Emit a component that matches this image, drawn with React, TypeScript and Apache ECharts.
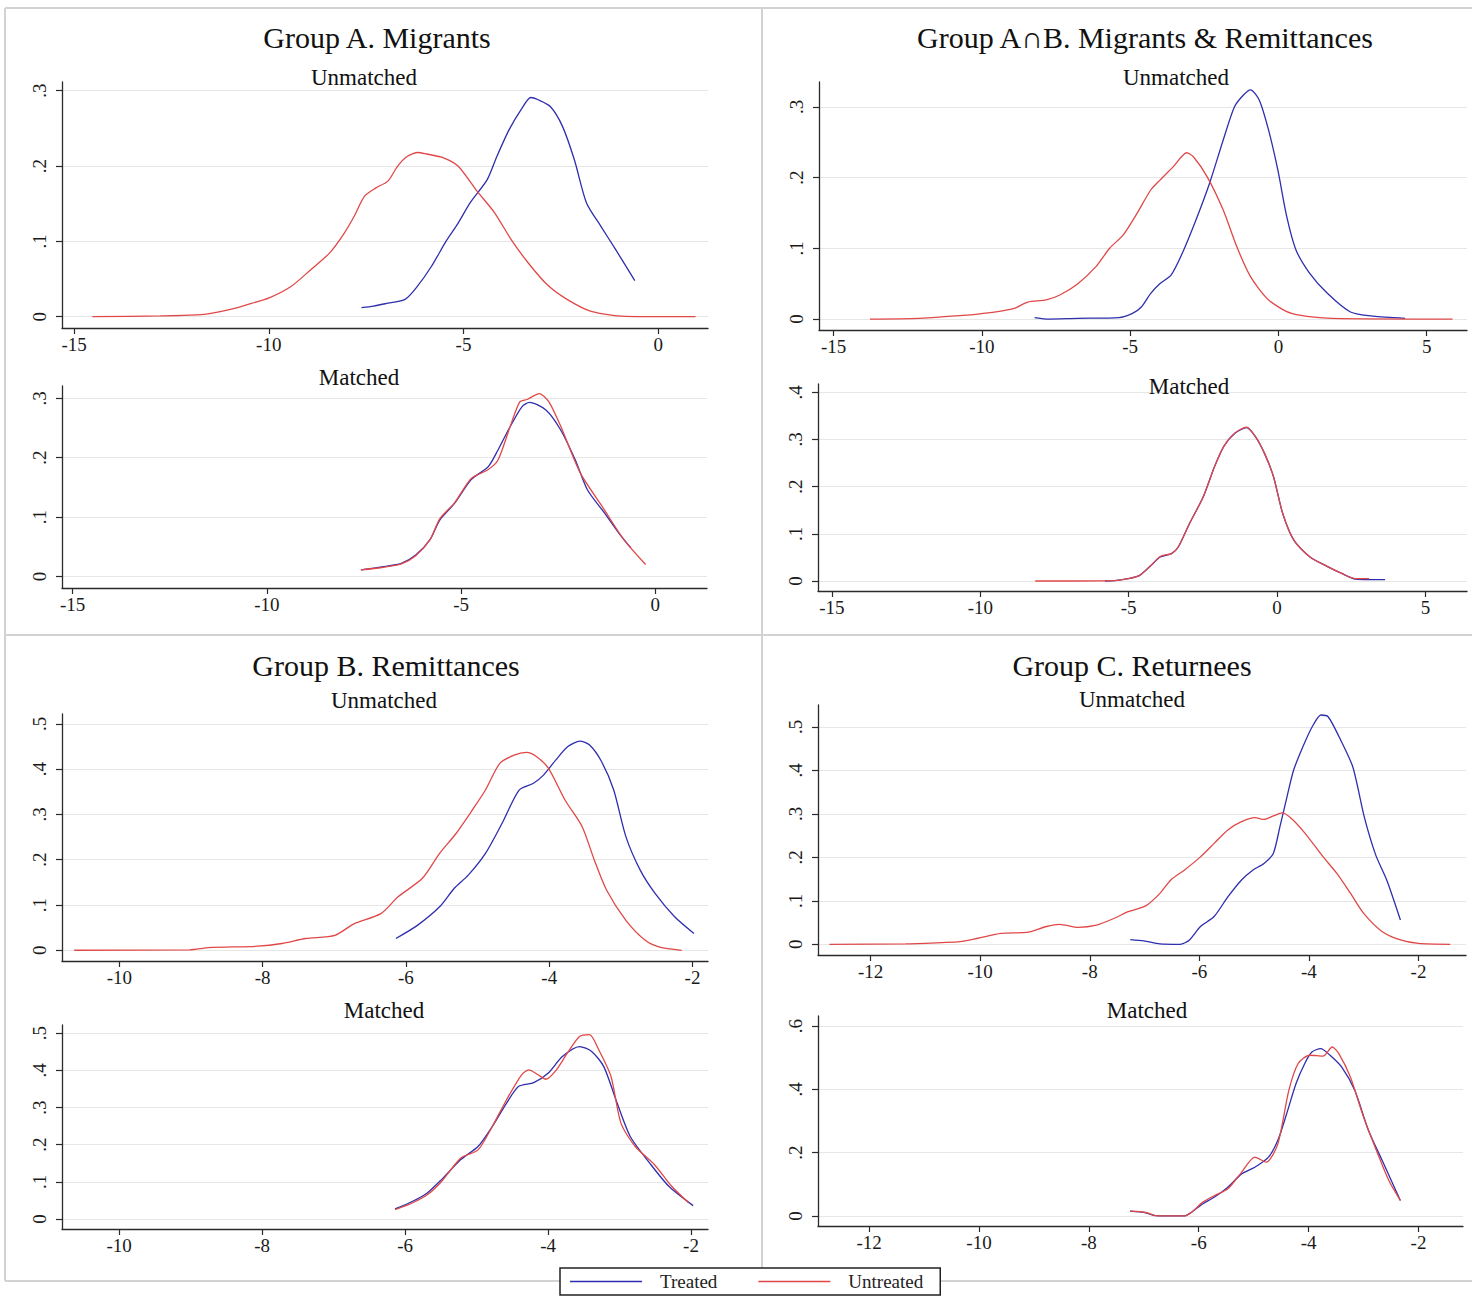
import React, { useEffect, useRef } from "react";
import * as echarts from "echarts";

// ---------- tick labels ----------
const xTicksA = [-15, -10, -5, 0];
const xTicksAB = [-15, -10, -5, 0, 5];
const xTicksB = [-10, -8, -6, -4, -2];
const xTicksC = [-12, -10, -8, -6, -4, -2];
const yTicks3 = [0, 0.1, 0.2, 0.3];
const yTicks4 = [0, 0.1, 0.2, 0.3, 0.4];
const yTicks5 = [0, 0.1, 0.2, 0.3, 0.4, 0.5];
const yTicks6 = [0, 0.2, 0.4, 0.6];

// ---------- titles ----------
const groupTitles = ["Group A. Migrants", "Group A\u2229B. Migrants & Remittances", "Group B. Remittances", "Group C. Returnees"];
const subTitles = ["Unmatched", "Matched"];
const seriesNames = ["Treated", "Untreated"];

// ---------- Group A ----------
const aUnTreated: number[][] = [[-7.62,0.012],[-7.31,0.014],[-6.94,0.018],[-6.5,0.023],[-6.19,0.04],[-5.82,0.067],[-5.45,0.1],[-5.14,0.124],[-4.83,0.151],[-4.39,0.182],[-4.14,0.213],[-3.83,0.248],[-3.52,0.275],[-3.27,0.291],[-3.08,0.288],[-2.77,0.279],[-2.46,0.253],[-2.15,0.208],[-1.84,0.151],[-1.47,0.12],[-1.09,0.089],[-0.6,0.048]];
const aUnUntreated: number[][] = [[-14.53,0],[-12.79,0.001],[-11.67,0.003],[-11.04,0.009],[-10.55,0.016],[-9.99,0.025],[-9.43,0.04],[-8.93,0.062],[-8.43,0.085],[-8.06,0.111],[-7.81,0.133],[-7.54,0.16],[-7.25,0.171],[-6.94,0.18],[-6.69,0.2],[-6.44,0.213],[-6.17,0.218],[-5.95,0.216],[-5.51,0.211],[-5.14,0.2],[-4.64,0.166],[-4.2,0.138],[-3.77,0.102],[-3.33,0.071],[-2.84,0.042],[-2.34,0.023],[-1.72,0.007],[-0.85,0.0005],[0.96,0]];
const aMaTreated: number[][] = [[-7.58,0.011],[-7.04,0.016],[-6.54,0.022],[-6.17,0.036],[-5.8,0.062],[-5.55,0.095],[-5.17,0.123],[-4.74,0.163],[-4.3,0.185],[-4.05,0.213],[-3.74,0.252],[-3.43,0.286],[-3.24,0.293],[-2.81,0.28],[-2.44,0.247],[-2.06,0.196],[-1.75,0.146],[-1.31,0.107],[-0.94,0.073],[-0.63,0.048]];
const aMaUntreated: number[][] = [[-7.58,0.011],[-7.04,0.015],[-6.54,0.021],[-6.17,0.035],[-5.8,0.062],[-5.55,0.097],[-5.17,0.124],[-4.74,0.165],[-4.3,0.18],[-4.05,0.196],[-3.74,0.252],[-3.49,0.294],[-3.3,0.298],[-2.99,0.308],[-2.74,0.294],[-2.43,0.252],[-1.93,0.174],[-1.37,0.118],[-0.81,0.062],[-0.25,0.02]];

// ---------- Group A∩B ----------
const abUnTreated: number[][] = [[-8.22,0.002],[-7.83,0],[-6.76,0.001],[-5.38,0.002],[-4.92,0.008],[-4.62,0.017],[-4.31,0.036],[-4.0,0.05],[-3.62,0.062],[-3.24,0.093],[-2.78,0.14],[-2.32,0.192],[-1.86,0.253],[-1.48,0.3],[-1.17,0.317],[-0.94,0.324],[-0.64,0.309],[-0.33,0.267],[-0.02,0.211],[0.28,0.145],[0.59,0.098],[1.05,0.065],[1.66,0.036],[2.43,0.01],[3.19,0.004],[4.27,0.001]];
const abUnUntreated: number[][] = [[-13.77,0],[-12.12,0.001],[-11.05,0.004],[-10.13,0.007],[-9.52,0.01],[-8.91,0.015],[-8.45,0.024],[-7.83,0.027],[-7.37,0.034],[-6.76,0.05],[-6.15,0.074],[-5.69,0.1],[-5.23,0.119],[-4.77,0.149],[-4.31,0.182],[-4.0,0.196],[-3.55,0.215],[-3.09,0.235],[-2.86,0.229],[-2.4,0.201],[-1.86,0.154],[-1.4,0.102],[-0.94,0.06],[-0.33,0.027],[0.44,0.008],[1.81,0.001],[5.87,0]];
const abMaTreated: number[][] = [[-5.8,0],[-5.47,0.001],[-5.02,0.005],[-4.63,0.012],[-4.25,0.033],[-3.94,0.051],[-3.56,0.058],[-3.33,0.072],[-2.95,0.122],[-2.49,0.178],[-2.11,0.242],[-1.8,0.285],[-1.42,0.313],[-1.03,0.325],[-0.73,0.306],[-0.42,0.27],[-0.12,0.221],[0.19,0.143],[0.57,0.086],[1.11,0.051],[1.72,0.03],[2.18,0.016],[2.64,0.004],[3.1,0.003],[3.64,0.003]];
const abMaUntreated: number[][] = [[-8.15,0],[-5.47,0.001],[-5.02,0.005],[-4.63,0.012],[-4.25,0.033],[-3.94,0.052],[-3.56,0.058],[-3.33,0.072],[-2.95,0.122],[-2.49,0.178],[-2.11,0.242],[-1.8,0.285],[-1.42,0.314],[-1.03,0.326],[-0.73,0.306],[-0.42,0.27],[-0.12,0.221],[0.19,0.143],[0.57,0.086],[1.11,0.051],[1.72,0.03],[2.18,0.016],[2.64,0.005],[3.1,0.005]];

// ---------- Group B ----------
const bUnTreated: number[][] = [[-6.14,0.026],[-5.84,0.055],[-5.53,0.096],[-5.33,0.136],[-5.13,0.166],[-4.89,0.214],[-4.66,0.28],[-4.42,0.354],[-4.22,0.369],[-4.08,0.387],[-3.91,0.42],[-3.74,0.45],[-3.57,0.462],[-3.44,0.454],[-3.27,0.417],[-3.1,0.354],[-2.93,0.251],[-2.73,0.177],[-2.52,0.125],[-2.25,0.074],[-1.98,0.037]];
const bUnUntreated: number[][] = [[-10.63,0],[-9.02,0.001],[-8.75,0.006],[-8.07,0.009],[-7.73,0.015],[-7.4,0.026],[-6.99,0.033],[-6.72,0.059],[-6.35,0.081],[-6.11,0.118],[-5.77,0.159],[-5.53,0.214],[-5.3,0.258],[-5.06,0.313],[-4.89,0.354],[-4.69,0.413],[-4.49,0.431],[-4.32,0.437],[-4.18,0.428],[-4.01,0.402],[-3.78,0.332],[-3.54,0.273],[-3.37,0.199],[-3.2,0.133],[-2.93,0.066],[-2.66,0.022],[-2.46,0.007],[-2.15,0]];
const bMaTreated: number[][] = [[-6.14,0.027],[-5.9,0.047],[-5.69,0.07],[-5.49,0.106],[-5.22,0.16],[-4.98,0.195],[-4.78,0.249],[-4.58,0.312],[-4.41,0.357],[-4.2,0.367],[-4.0,0.392],[-3.8,0.437],[-3.56,0.464],[-3.39,0.451],[-3.22,0.41],[-3.05,0.321],[-2.85,0.222],[-2.58,0.151],[-2.31,0.088],[-1.97,0.036]];
const bMaUntreated: number[][] = [[-6.14,0.025],[-5.9,0.043],[-5.69,0.065],[-5.49,0.101],[-5.22,0.164],[-4.98,0.186],[-4.78,0.249],[-4.58,0.321],[-4.37,0.388],[-4.27,0.401],[-4.14,0.388],[-4.03,0.376],[-3.9,0.397],[-3.73,0.446],[-3.56,0.491],[-3.42,0.496],[-3.29,0.455],[-3.12,0.384],[-2.98,0.258],[-2.78,0.195],[-2.51,0.146],[-2.27,0.088],[-2.03,0.043]];

// ---------- Group C ----------
const cUnTreated: number[][] = [[-7.26,0.011],[-7.01,0.008],[-6.72,0.001],[-6.35,0],[-6.18,0.01],[-5.98,0.041],[-5.73,0.064],[-5.48,0.109],[-5.23,0.148],[-5.02,0.171],[-4.82,0.186],[-4.65,0.209],[-4.53,0.27],[-4.4,0.339],[-4.28,0.4],[-4.11,0.454],[-3.94,0.5],[-3.78,0.527],[-3.65,0.523],[-3.45,0.477],[-3.2,0.408],[-2.99,0.293],[-2.78,0.205],[-2.58,0.148],[-2.33,0.056]];
const cUnUntreated: number[][] = [[-12.75,0],[-11.36,0.001],[-10.7,0.004],[-10.37,0.006],[-10.04,0.014],[-9.62,0.025],[-9.12,0.028],[-8.79,0.041],[-8.55,0.046],[-8.21,0.039],[-7.88,0.044],[-7.55,0.06],[-7.3,0.075],[-6.97,0.089],[-6.72,0.117],[-6.52,0.148],[-6.27,0.171],[-5.98,0.201],[-5.73,0.232],[-5.48,0.263],[-5.23,0.282],[-4.98,0.291],[-4.82,0.287],[-4.65,0.295],[-4.49,0.302],[-4.32,0.289],[-4.07,0.255],[-3.74,0.201],[-3.49,0.163],[-3.24,0.117],[-3.0,0.071],[-2.66,0.029],[-2.33,0.01],[-2.0,0.002],[-1.42,0]];
const cMaTreated: number[][] = [[-7.25,0.015],[-6.96,0.01],[-6.79,0.001],[-6.26,0],[-6.13,0.012],[-5.93,0.038],[-5.72,0.059],[-5.47,0.091],[-5.22,0.133],[-4.98,0.154],[-4.73,0.186],[-4.56,0.239],[-4.4,0.323],[-4.23,0.418],[-4.07,0.482],[-3.94,0.518],[-3.78,0.529],[-3.61,0.508],[-3.4,0.471],[-3.16,0.397],[-2.91,0.27],[-2.66,0.175],[-2.33,0.049]];
const cMaUntreated: number[][] = [[-7.25,0.015],[-6.96,0.011],[-6.79,0.001],[-6.26,0],[-6.13,0.012],[-5.93,0.043],[-5.72,0.064],[-5.47,0.086],[-5.22,0.138],[-4.98,0.186],[-4.77,0.17],[-4.56,0.228],[-4.36,0.397],[-4.19,0.482],[-3.98,0.508],[-3.74,0.505],[-3.57,0.534],[-3.45,0.513],[-3.24,0.439],[-3.0,0.313],[-2.74,0.196],[-2.54,0.112],[-2.33,0.049]];

const FONT = '"Liberation Serif", "Times New Roman", serif';
const BLUE = "#2e2eae";
const RED = "#e04848";
const AXIS = "#2a2a2a";
const GRIDLINE = "#e6e6e6";
const FRAME = "#d2d2d2";

type Panel = {
  grid: { left: number; top: number; width: number; height: number };
  xRange: [number, number];
  yRange: [number, number];
  xTicks: number[];
  yTicks: number[];
  treated: number[][];
  untreated: number[][];
};

const panels: Panel[] = [
  { grid: { left: 62, top: 82, width: 646, height: 246 }, xRange: [-15.31, 1.28], yRange: [-0.015, 0.3116], xTicks: xTicksA, yTicks: yTicks3, treated: aUnTreated, untreated: aUnUntreated },
  { grid: { left: 62, top: 386, width: 645, height: 202 }, xRange: [-15.275, 1.33], yRange: [-0.0195, 0.3207], xTicks: xTicksA, yTicks: yTicks3, treated: aMaTreated, untreated: aMaUntreated },
  { grid: { left: 819, top: 82, width: 648, height: 248 }, xRange: [-15.49, 6.36], yRange: [-0.0155, 0.335], xTicks: xTicksAB, yTicks: yTicks3, treated: abUnTreated, untreated: abUnUntreated },
  { grid: { left: 818, top: 384, width: 649, height: 207 }, xRange: [-15.47, 6.4], yRange: [-0.0212, 0.4176], xTicks: xTicksAB, yTicks: yTicks4, treated: abMaTreated, untreated: abMaUntreated },
  { grid: { left: 62, top: 714, width: 646, height: 247 }, xRange: [-10.8, -1.784], yRange: [-0.0237, 0.522], xTicks: xTicksB, yTicks: yTicks5, treated: bUnTreated, untreated: bUnUntreated },
  { grid: { left: 62, top: 1025, width: 646, height: 204 }, xRange: [-10.8, -1.762], yRange: [-0.0269, 0.522], xTicks: xTicksB, yTicks: yTicks5, treated: bMaTreated, untreated: bMaUntreated },
  { grid: { left: 818, top: 705, width: 648, height: 250 }, xRange: [-12.96, -1.133], yRange: [-0.0245, 0.55], xTicks: xTicksC, yTicks: yTicks5, treated: cUnTreated, untreated: cUnUntreated },
  { grid: { left: 818, top: 1016, width: 645, height: 210 }, xRange: [-12.93, -1.19], yRange: [-0.0317, 0.632], xTicks: xTicksC, yTicks: yTicks6, treated: cMaTreated, untreated: cMaUntreated },
];

// title text centres
const titlePos = [[377, 37], [1145, 37], [386, 665], [1132, 665]];
const subPos = [[364, 77], [359, 377], [1176, 77], [1189, 386], [384, 700], [384, 1010], [1132, 699], [1147, 1010]];

function yFmt(v: number) {
  if (Math.abs(v) < 1e-9) return "0";
  return String(+v.toFixed(2)).replace(/^0\./, ".");
}

export default function App() {
  const ref = useRef<HTMLDivElement>(null);
  useEffect(() => {
    if (!ref.current) return;
    const chart = echarts.init(ref.current, undefined, { renderer: "svg" });

    const grids = panels.map((p) => ({ ...p.grid, containLabel: false, outerBoundsMode: "none" }));
    const xAxis = panels.map((p, i) => ({
      type: "value",
      gridIndex: i,
      min: p.xRange[0],
      max: p.xRange[1],
      axisLine: { show: true, onZero: false, lineStyle: { color: AXIS, width: 1.3 } },
      axisTick: { show: true, length: 6, customValues: p.xTicks, lineStyle: { color: AXIS, width: 1.2 } },
      axisLabel: { customValues: p.xTicks, fontFamily: FONT, fontSize: 19, color: "#1a1a1a", margin: 7 },
      splitLine: { show: false },
    }));
    const yAxis = panels.map((p, i) => ({
      type: "value",
      gridIndex: i,
      min: p.yRange[0],
      max: p.yRange[1],
      axisLine: { show: true, onZero: false, lineStyle: { color: AXIS, width: 1.3 } },
      axisTick: { show: true, length: 6, customValues: p.yTicks, lineStyle: { color: AXIS, width: 1.2 } },
      axisLabel: { customValues: p.yTicks, rotate: 90, formatter: yFmt, fontFamily: FONT, fontSize: 19, color: "#1a1a1a", margin: 13 },
      splitLine: { show: true, lineStyle: { color: GRIDLINE, width: 1.2 } },
    }));
    const series: any[] = [];
    panels.forEach((p, i) => {
      series.push({
        type: "line", name: seriesNames[0], xAxisIndex: i, yAxisIndex: i, data: p.treated,
        symbol: "none", smooth: 0.25, lineStyle: { color: BLUE, width: 1.3 }, itemStyle: { color: BLUE }, z: 3, silent: true,
      });
      series.push({
        type: "line", name: seriesNames[1], xAxisIndex: i, yAxisIndex: i, data: p.untreated,
        symbol: "none", smooth: 0.25, lineStyle: { color: RED, width: 1.3 }, itemStyle: { color: RED }, z: 4, silent: true,
      });
    });

    const texts: any[] = [];
    groupTitles.forEach((t, i) => {
      texts.push({ type: "text", x: titlePos[i][0], y: titlePos[i][1], z: 5,
        style: { text: t, fontFamily: FONT, fontSize: 30, fill: "#111", align: "center", verticalAlign: "middle" } });
    });
    subPos.forEach((pos, i) => {
      texts.push({ type: "text", x: pos[0], y: pos[1], z: 5,
        style: { text: subTitles[i % 2], fontFamily: FONT, fontSize: 23, fill: "#111", align: "center", verticalAlign: "middle" } });
    });
    const frameStyle = { stroke: FRAME, lineWidth: 2 };
    const frame = [
      { type: "line", shape: { x1: 5, y1: 8, x2: 1472, y2: 8 }, style: frameStyle, z: 0 },
      { type: "line", shape: { x1: 5, y1: 8, x2: 5, y2: 1281 }, style: frameStyle, z: 0 },
      { type: "line", shape: { x1: 5, y1: 1281, x2: 1472, y2: 1281 }, style: frameStyle, z: 0 },
      { type: "line", shape: { x1: 762, y1: 8, x2: 762, y2: 1281 }, style: frameStyle, z: 0 },
      { type: "line", shape: { x1: 5, y1: 635, x2: 1472, y2: 635 }, style: frameStyle, z: 0 },
    ];

    chart.setOption({
      animation: false,
      backgroundColor: "#ffffff",
      grid: grids,
      xAxis,
      yAxis,
      series,
      legend: {
        data: seriesNames.map((n) => ({ name: n, icon: "rect" })),
        left: 560,
        top: 1268,
        orient: "horizontal",
        itemWidth: 72,
        itemHeight: 1.5,
        itemGap: 41,
        padding: [4, 17, 4, 10],
        borderColor: "#222",
        borderWidth: 1.5,
        borderRadius: 0,
        backgroundColor: "#ffffff",
        textStyle: { fontFamily: FONT, fontSize: 19, color: "#222", padding: [0, 0, 0, 13] },
        selectedMode: false,
        z: 10,
      },
      graphic: { elements: [...frame, ...texts] },
    });
    return () => chart.dispose();
  }, []);
  return <div ref={ref} style={{ position: "absolute", left: 0, top: 0, width: 1472, height: 1298, background: "#fff" }} />;
}
